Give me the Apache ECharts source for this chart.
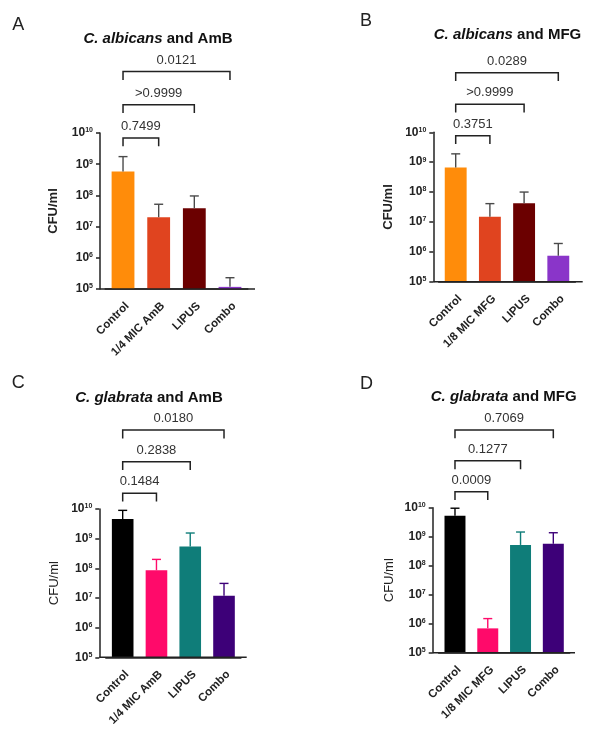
<!DOCTYPE html>
<html>
<head>
<meta charset="utf-8">
<script src="https://cdn.jsdelivr.net/npm/echarts@6/dist/echarts.min.js"></script>
<style>
html,body{margin:0;padding:0;background:#fff;}
#chart{width:595px;height:732px;}
</style>
</head>
<body>
<div id="chart"></div>
<script>
// ---------- DATA ----------
const categoriesAmB = ['Control', '1/4 MIC AmB', 'LIPUS', 'Combo'];
const categoriesMFG = ['Control', '1/8 MIC MFG', 'LIPUS', 'Combo'];

// Panel A: C. albicans and AmB (mean, mean+SD)
const meanA = [5.8e8, 2.0e7, 3.9e7, 1.17e5];
const upperA = [1.75e9, 5.2e7, 9.6e7, 2.3e5];
// Panel B: C. albicans and MFG
const meanB = [6.6e8, 1.5e7, 4.2e7, 7.4e5];
const upperB = [1.9e9, 4.1e7, 1.0e8, 1.9e6];
// Panel C: C. glabrata and AmB
const meanC = [4.6e9, 8.6e7, 5.4e8, 1.2e7];
const upperC = [9.0e9, 2.0e8, 1.55e9, 3.1e7];
// Panel D: C. glabrata and MFG
const meanD = [5.3e9, 6.9e5, 5.2e8, 5.7e8];
const upperD = [9.6e9, 1.5e6, 1.45e9, 1.37e9];

// p-values for Control vs group 1, 2, 3
const pA = ['0.7499', '>0.9999', '0.0121'];
const pB = ['0.3751', '>0.9999', '0.0289'];
const pC = ['0.1484', '0.2838', '0.0180'];
const pD = ['0.0009', '0.1277', '0.7069'];
const compareTo = [1, 2, 3];

const yMin = 1e5;
const yMax = 1e10;

const titlesItalic = ['C. albicans', 'C. albicans', 'C. glabrata', 'C. glabrata'];
const titlesRest = ['and AmB', 'and MFG', 'and AmB', 'and MFG'];
const panelLetters = ['A', 'B', 'C', 'D'];

// ---------- STYLE / LAYOUT ----------
const FONT = '"Liberation Sans", Arial, Helvetica, sans-serif';
const INK = '#222';
const colorsAlb = ['#FF8C0A', '#E0441F', '#6B0000', '#8A35C9'];
const colorsGla = ['#000000', '#FF0A6A', '#0F7D79', '#3D0078'];

const panels = [
  {cats: categoriesAmB, mean: meanA, upper: upperA, p: pA, colors: colorsAlb, errColor: null,
   axisX: 100, left: 105.2, width: 142.6, top: 133, height: 156, axisEnd: 255,
   brOff: 5, brStep: 33.2, nameGap: 40, nameBold: true,
   title: [158, 39], letter: [18.3, 25]},
  {cats: categoriesMFG, mean: meanB, upper: upperB, p: pB, colors: colorsAlb, errColor: null,
   axisX: 433.3, left: 438.6, width: 136.8, top: 132.3, height: 149.4, axisEnd: 582.7,
   brOff: 3.4, brStep: 31.5, nameGap: 38, nameBold: true,
   title: [507.5, 35], letter: [366, 21]},
  {cats: categoriesAmB, mean: meanC, upper: upperC, p: pC, colors: colorsGla, errColor: 'bar',
   axisX: 99.3, left: 105.8, width: 135.1, top: 509, height: 148.3, axisEnd: 246.7,
   brOff: -15.7, brStep: 31.6, nameGap: 38, nameBold: false,
   title: [149, 397.7], letter: [18.3, 383.3]},
  {cats: categoriesMFG, mean: meanD, upper: upperD, p: pD, colors: colorsGla, errColor: 'bar',
   axisX: 432.7, left: 438.6, width: 131.1, top: 507.7, height: 145, axisEnd: 575,
   brOff: -16, brStep: 30.85, nameGap: 37, nameBold: false,
   title: [503.7, 396.7], letter: [366.5, 384.3]}
];

const grids = [], xAxes = [], yAxes = [], series = [], graphics = [];

panels.forEach((P, k) => {
  grids.push({left: P.left, top: P.top, width: P.width, height: P.height, containLabel: false});
  xAxes.push({
    type: 'category', gridIndex: k, data: P.cats,
    axisLine: {lineStyle: {color: INK, width: 1.5}},
    axisTick: {alignWithLabel: true, length: 5, lineStyle: {color: INK, width: 1.5}},
    axisLabel: {
      rotate: 45, interval: 0, margin: 11, verticalAlign: 'top',
      fontFamily: FONT, fontWeight: 'bold', fontSize: 11.5, color: INK
    },
    splitLine: {show: false}
  });
  yAxes.push({
    type: 'log', logBase: 10, gridIndex: k, min: yMin, max: yMax, interval: 1,
    offset: P.left - P.axisX,
    name: 'CFU/ml', nameLocation: 'middle', nameRotate: 90, nameGap: P.nameGap,
    nameTextStyle: {fontFamily: FONT, fontSize: 13, fontWeight: P.nameBold ? 'bold' : 'normal', color: INK},
    axisLine: {show: true, lineStyle: {color: INK, width: 1.5}},
    axisTick: {show: true, length: 4, lineStyle: {color: INK, width: 1.5}},
    splitLine: {show: false},
    axisLabel: {
      margin: 7,
      formatter: v => '{b|10}{s|' + Math.round(Math.log10(v)) + '}',
      rich: {
        b: {fontFamily: FONT, fontWeight: 'bold', fontSize: 12, color: INK},
        s: {fontFamily: FONT, fontWeight: 'bold', fontSize: 7, color: INK, verticalAlign: 'top'}
      }
    }
  });
  // bars
  series.push({
    type: 'bar', xAxisIndex: k, yAxisIndex: k, barWidth: '64%', clip: true,
    data: P.mean.map((v, i) => ({value: v, itemStyle: {color: P.colors[i]}})),
    z: 2
  });
  // error bars (mean to mean+SD)
  series.push({
    type: 'custom', xAxisIndex: k, yAxisIndex: k, z: 3,
    data: P.mean.map((v, i) => [i, v, P.upper[i]]),
    encode: {x: 0, y: [1, 2]},
    renderItem: (params, api) => {
      const i = api.value(0);
      const a = api.coord([i, api.value(1)]);
      const b = api.coord([i, api.value(2)]);
      const col = P.errColor === 'bar' ? P.colors[i] : '#4a4a4a';
      const style = {stroke: col, lineWidth: 1.4};
      return {type: 'group', children: [
        {type: 'line', shape: {x1: a[0], y1: a[1], x2: b[0], y2: b[1]}, style},
        {type: 'line', shape: {x1: b[0] - 4.5, y1: b[1], x2: b[0] + 4.5, y2: b[1]}, style}
      ]};
    }
  });
  // significance brackets
  series.push({
    type: 'custom', xAxisIndex: k, yAxisIndex: k, z: 4, clip: false,
    data: compareTo.map(j => [0, j, yMax]),
    encode: {x: [0, 1], y: 2},
    renderItem: (params, api) => {
      const lvl = params.dataIndex;
      const p1 = api.coord([api.value(0), api.value(2)]);
      const p2 = api.coord([api.value(1), api.value(2)]);
      const y = p1[1] + P.brOff - lvl * P.brStep;
      const drop = 8.3;
      return {type: 'group', children: [
        {type: 'polyline', shape: {points: [[p1[0], y + drop], [p1[0], y], [p2[0], y], [p2[0], y + drop]]},
         style: {stroke: INK, lineWidth: 1.5, fill: null}},
        {type: 'text', x: (p1[0] + p2[0]) / 2, y: y - 11.5,
         style: {text: P.p[lvl], fontFamily: FONT, fontSize: 13, fill: '#333', align: 'center', verticalAlign: 'middle'}}
      ]};
    }
  });
  // baseline extension so x axis meets the y axis and runs past the last bar
  graphics.push({
    type: 'line', z: 10,
    shape: {x1: P.axisX, y1: P.top + P.height, x2: P.axisEnd, y2: P.top + P.height},
    style: {stroke: INK, lineWidth: 1.5}
  });
  // title
  graphics.push({
    type: 'text', x: P.title[0], y: P.title[1],
    style: {
      text: '{i|' + titlesItalic[k] + '}{n| ' + titlesRest[k] + '}',
      align: 'center', verticalAlign: 'middle',
      rich: {
        i: {fontFamily: FONT, fontSize: 15, fontWeight: 'bold', fontStyle: 'italic', fill: '#111'},
        n: {fontFamily: FONT, fontSize: 15, fontWeight: 'bold', fill: '#111'}
      }
    }
  });
  // panel letter
  graphics.push({
    type: 'text', x: P.letter[0], y: P.letter[1],
    style: {text: panelLetters[k], fontFamily: FONT, fontSize: 18, fill: INK, align: 'center', verticalAlign: 'middle'}
  });
});

const chart = echarts.init(document.getElementById('chart'), null, {renderer: 'canvas'});
chart.setOption({
  animation: false,
  backgroundColor: '#fff',
  grid: grids,
  xAxis: xAxes,
  yAxis: yAxes,
  series: series,
  graphic: graphics
});
</script>
</body>
</html>
